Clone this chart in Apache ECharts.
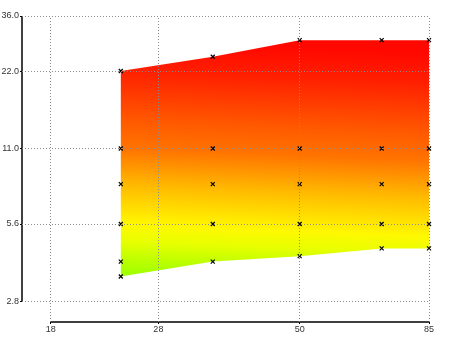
<!DOCTYPE html>
<html>
<head>
<meta charset="utf-8">
<script src="https://cdn.jsdelivr.net/npm/echarts@6/dist/echarts.min.js"></script>
<style>
  html, body { margin: 0; padding: 0; background: #fff; }
  #chart { width: 450px; height: 337px; }
</style>
</head>
<body>
<div id="chart"></div>
<script>
// x of each measured column
const xValues = [24, 35, 50, 70, 85];
// measured y values in each column (bottom -> top)
const col24 = [3.5, 4.0, 5.6, 8, 11, 22];
const col35 = [4.0, 5.6, 8, 11, 25];
const col50 = [4.2, 5.6, 8, 11, 29];
const col70 = [4.5, 5.6, 8, 11, 29];
const col85 = [4.5, 5.6, 8, 11, 29];
const columns = [col24, col35, col50, col70, col85];

// tick labels
const xTicks = [18, 28, 50, 85];
const yTicks = [2.8, 5.6, 11, 22, 36];
// axis ranges (the axes start a bit before the first tick)
const xMin = 16, xMax = 85;
const yMin = 2.33, yMax = 36;

// colour scale of the surface (value -> colour)
const colorValues = [29, 22, 14, 11, 8, 5.6, 4.8, 4.0, 3.5];
const colorList = ['#ff0800', '#ff2000', '#ff5a00', '#ff7400', '#ffb800', '#fff800', '#e8ff00', '#b8ff00', '#9cff00'];

const points = [];
columns.forEach((col, i) => col.forEach(v => points.push([xValues[i], v])));

const fontFamily = "'Liberation Sans', Arial, sans-serif";
const tilt = 0.04;

const chart = echarts.init(document.getElementById('chart'));

chart.setOption({
  animation: false,
  grid: { left: 22, right: 21, top: 16, bottom: 15, containLabel: false, outerBoundsMode: 'none' },
  xAxis: {
    type: 'log',
    min: xMin,
    max: xMax,
    axisLine: { show: false },
    splitLine: { show: false },
    axisTick: { show: true, customValues: xTicks, length: 2, lineStyle: { color: '#000' } },
    axisLabel: {
      customValues: xTicks,
      margin: 3,
      color: '#333',
      fontSize: 9,
      fontFamily: fontFamily,
      formatter: v => String(Math.round(v))
    }
  },
  yAxis: {
    type: 'log',
    min: yMin,
    max: yMax,
    axisLine: { show: false },
    splitLine: { show: false },
    axisTick: { show: true, customValues: yTicks, length: 2, lineStyle: { color: '#000' } },
    axisLabel: {
      customValues: yTicks,
      margin: 3,
      color: '#333',
      fontSize: 9,
      fontFamily: fontFamily,
      formatter: v => Number(v).toFixed(1)
    }
  },
  series: [
    {
      type: 'custom',
      z: 1,
      silent: true,
      data: [[xValues[0], columns[0][0]]],
      renderItem: function (params, api) {
        const top = xValues.map((x, i) => api.coord([x, Math.max(...columns[i])]));
        const bottom = xValues.map((x, i) => api.coord([x, Math.min(...columns[i])])).reverse();
        const x0 = top[0][0];
        const y0 = api.coord([xValues[0], colorValues[0]])[1];
        const y1 = api.coord([xValues[0], colorValues[colorValues.length - 1]])[1];
        const L = y1 - y0;
        const stops = colorValues.map((v, i) => ({
          offset: Math.min(1, Math.max(0, (api.coord([xValues[0], v])[1] - y0) / (L * (1 + tilt * tilt)))),
          color: colorList[i]
        }));
        return {
          type: 'polygon',
          shape: { points: top.concat(bottom) },
          style: {
            fill: {
              type: 'linear',
              x: x0, y: y0, x2: x0 - tilt * L, y2: y0 + L,
              global: true,
              colorStops: stops
            }
          }
        };
      }
    },
    {
      type: 'scatter',
      z: 3,
      data: points,
      symbol: 'path://M0,0L4,4M4,0L0,4',
      symbolSize: 4,
      itemStyle: { color: 'rgba(0,0,0,0)', borderColor: '#000', borderWidth: 1.2, opacity: 1 },
      silent: true,
      markLine: {
        silent: true,
        symbol: 'none',
        animation: false,
        label: { show: false },
        lineStyle: { color: '#8c8c8c', type: [1, 2], width: 1 },
        data: xTicks.map(v => ({ xAxis: v })).concat(yTicks.map(v => ({ yAxis: v })))
      }
    },
    {
      type: 'line',
      z: 4,
      clip: false,
      silent: true,
      showSymbol: false,
      symbol: 'none',
      lineStyle: { color: '#000', width: 1.5 },
      data: [[xMin, yTicks[0]], [xMin, yTicks[yTicks.length - 1]]]
    },
    {
      type: 'line',
      z: 4,
      clip: false,
      silent: true,
      showSymbol: false,
      symbol: 'none',
      lineStyle: { color: '#000', width: 1.5 },
      data: [[xTicks[0], yMin], [xTicks[xTicks.length - 1], yMin]]
    }
  ]
});
</script>
</body>
</html>
